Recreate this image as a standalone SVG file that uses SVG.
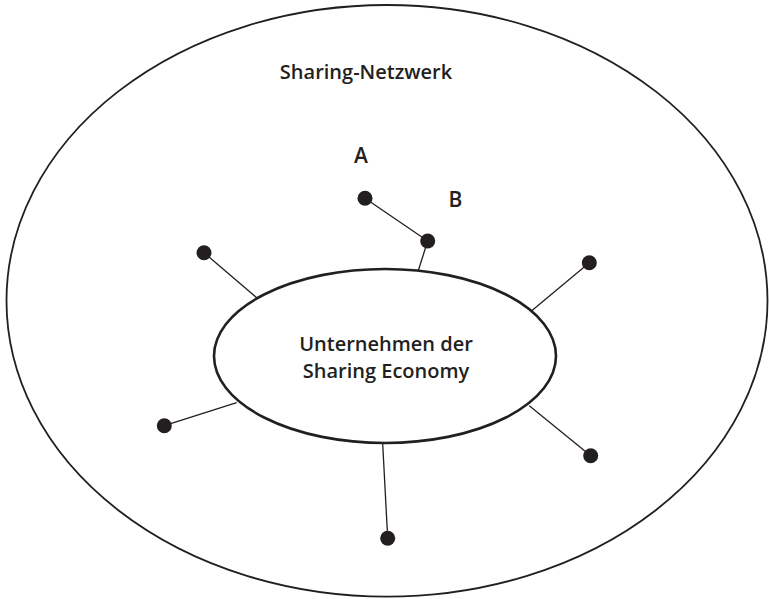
<svg xmlns="http://www.w3.org/2000/svg" width="769" height="599" viewBox="0 0 769 599">
<style>
.lbl{font-family:"Open Sans","Noto Sans","Liberation Sans",sans-serif;font-size:20px;fill:#231f20;font-weight:600}
.ab{font-family:"Open Sans","Noto Sans","Liberation Sans",sans-serif;font-size:21px;fill:#231f20;font-weight:600}
.con{stroke:#231f20;stroke-width:1.3;fill:none}
.dot{fill:#231f20}
</style>
<rect width="769" height="599" fill="#fff"/>
<g id="network">
<ellipse cx="387" cy="300.8" rx="380.5" ry="295.8" fill="none" stroke="#231f20" stroke-width="1.8"/>
<text class="lbl" x="366" y="79" text-anchor="middle">Sharing-Netzwerk</text>
</g>
<g id="connectors">
<line class="con" x1="365" y1="198.3" x2="427.7" y2="241"/>
<line class="con" x1="427.7" y1="241" x2="418.3" y2="270.5"/>
<line class="con" x1="204" y1="252.7" x2="257.3" y2="298.3"/>
<line class="con" x1="589.3" y1="262.7" x2="531.7" y2="310.7"/>
<line class="con" x1="164.3" y1="425.7" x2="236.7" y2="402.7"/>
<line class="con" x1="590.7" y1="455.7" x2="529.3" y2="405.7"/>
<line class="con" x1="387.7" y1="538.3" x2="382.7" y2="444"/>
</g>
<g id="company">
<ellipse cx="385" cy="356" rx="171" ry="87" fill="#fff" stroke="#231f20" stroke-width="2.6"/>
<text class="lbl" x="386" y="351" text-anchor="middle">Unternehmen der</text>
<text class="lbl" x="386" y="378" text-anchor="middle">Sharing Economy</text>
</g>
<g id="node-A">
<circle class="dot" cx="365" cy="198.3" r="7.5"/>
<text class="ab" x="361" y="163.3" text-anchor="middle">A</text>
</g>
<g id="node-B">
<circle class="dot" cx="427.7" cy="241" r="7.5"/>
<text class="ab" x="455.4" y="207.3" text-anchor="middle">B</text>
</g>
<g id="node-ul"><circle class="dot" cx="204" cy="252.7" r="7.5"/></g>
<g id="node-ur"><circle class="dot" cx="589.3" cy="262.7" r="7.5"/></g>
<g id="node-ll"><circle class="dot" cx="164.3" cy="425.7" r="7.5"/></g>
<g id="node-lr"><circle class="dot" cx="590.7" cy="455.7" r="7.5"/></g>
<g id="node-b"><circle class="dot" cx="387.7" cy="538.3" r="7.5"/></g>
</svg>
